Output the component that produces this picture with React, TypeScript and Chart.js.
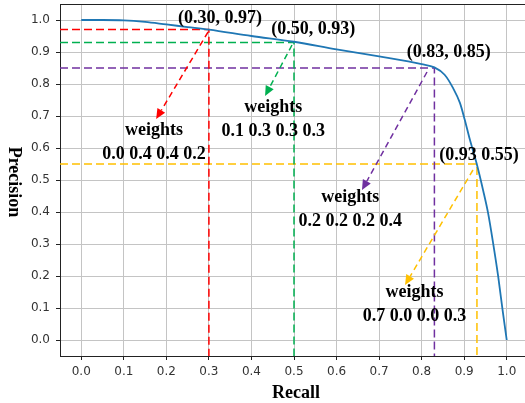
import React, { useEffect, useRef } from "react";
import { Chart, registerables } from "chart.js";

Chart.register(...registerables);

// ---- data ----
const recall = [0, 0.05, 0.1, 0.15, 0.2, 0.25, 0.3, 0.4, 0.5, 0.6, 0.7, 0.8, 0.83, 0.854, 0.874, 0.89, 0.901, 0.913, 0.929, 0.945, 0.956, 0.968, 0.98, 0.991, 1.0];
const precision = [1.0, 1.0, 0.999, 0.994, 0.986, 0.978, 0.97, 0.95, 0.932, 0.908, 0.886, 0.862, 0.852, 0.829, 0.787, 0.741, 0.69, 0.628, 0.553, 0.465, 0.398, 0.303, 0.198, 0.086, 0.0];

const tickValues = [0, 0.1, 0.2, 0.3, 0.4, 0.5, 0.6, 0.7, 0.8, 0.9, 1.0];
const tickLabels = ["0.0", "0.1", "0.2", "0.3", "0.4", "0.5", "0.6", "0.7", "0.8", "0.9", "1.0"];

const pointRecall = [0.3, 0.5, 0.83, 0.93];
const pointPrecision = [0.97, 0.93, 0.85, 0.55];
const pointLabels = ["(0.30, 0.97)", "(0.50, 0.93)", "(0.83, 0.85)", "(0.93 0.55)"];
const weightLabels = ["0.0 0.4 0.4 0.2", "0.1 0.3 0.3 0.3", "0.2 0.2 0.2 0.4", "0.7 0.0 0.0 0.3"];
const markerColors = ["#ff0000", "#00b050", "#7030a0", "#ffc000"];

// annotation placement (data coordinates)
const pointLabelPos = [[0.326, 0.991], [0.545, 0.956], [0.864, 0.884], [0.935, 0.5625]];
const weightLabelPos = [[0.171, 0.641], [0.451, 0.7125], [0.632, 0.431], [0.783, 0.134]];
const arrowFrom = [[0.298, 0.9625], [0.4953, 0.9219], [0.8126, 0.8375], [0.9207, 0.53125]];
const arrowTo = [[0.176, 0.6906], [0.432, 0.7625], [0.6598, 0.46875], [0.761, 0.171875]];

const AXIS_MIN = -0.05;
const AXIS_MAX = 1.05;

const annotationPlugin = {
  id: "annotations",
  afterDatasetsDraw(chart: any) {
    const ctx = chart.ctx;
    const xs = chart.scales.x;
    const ys = chart.scales.y;
    const area = chart.chartArea;
    ctx.save();
    // arrows
    for (let i = 0; i < arrowFrom.length; i++) {
      const x1 = xs.getPixelForValue(arrowFrom[i][0]);
      const y1 = ys.getPixelForValue(arrowFrom[i][1]);
      const x2 = xs.getPixelForValue(arrowTo[i][0]);
      const y2 = ys.getPixelForValue(arrowTo[i][1]);
      const ang = Math.atan2(y2 - y1, x2 - x1);
      const headLen = 10;
      const headW = 4.5;
      const bx = x2 - headLen * Math.cos(ang);
      const by = y2 - headLen * Math.sin(ang);
      ctx.strokeStyle = markerColors[i];
      ctx.fillStyle = markerColors[i];
      ctx.lineWidth = 1.5;
      ctx.setLineDash([6, 4]);
      ctx.beginPath();
      ctx.moveTo(x1, y1);
      ctx.lineTo(bx, by);
      ctx.stroke();
      ctx.setLineDash([]);
      ctx.beginPath();
      ctx.moveTo(x2, y2);
      ctx.lineTo(bx + headW * Math.sin(ang), by - headW * Math.cos(ang));
      ctx.lineTo(bx - headW * Math.sin(ang), by + headW * Math.cos(ang));
      ctx.closePath();
      ctx.fill();
    }
    // texts
    ctx.fillStyle = "#000";
    ctx.font = "bold 18px 'Liberation Serif', 'Times New Roman', serif";
    ctx.textAlign = "center";
    ctx.textBaseline = "alphabetic";
    for (let i = 0; i < pointLabels.length; i++) {
      ctx.fillText(pointLabels[i], xs.getPixelForValue(pointLabelPos[i][0]), ys.getPixelForValue(pointLabelPos[i][1]));
      const wx = xs.getPixelForValue(weightLabelPos[i][0]);
      const wy = ys.getPixelForValue(weightLabelPos[i][1]);
      ctx.fillText("weights", wx, wy);
      ctx.fillText(weightLabels[i], wx, wy + 24);
    }
    // top spine
    ctx.strokeStyle = "#222";
    ctx.lineWidth = 1;
    ctx.beginPath();
    ctx.moveTo(area.left, area.top + 0.5);
    ctx.lineTo(area.right, area.top + 0.5);
    ctx.stroke();
    // axis titles
    ctx.fillStyle = "#000";
    ctx.font = "bold 18px 'Liberation Serif', 'Times New Roman', serif";
    ctx.textAlign = "center";
    ctx.textBaseline = "alphabetic";
    ctx.fillText("Recall", (area.left + area.right) / 2 + 2, 398);
    ctx.save();
    ctx.translate(9, (area.top + area.bottom) / 2 + 2);
    ctx.rotate(Math.PI / 2);
    ctx.fillText("Precision", 0, 0);
    ctx.restore();
    ctx.restore();
  },
};

export default function App() {
  const ref = useRef<HTMLCanvasElement | null>(null);
  useEffect(() => {
    document.body.style.margin = "0";
    document.body.style.overflow = "hidden";
    const canvas = ref.current;
    if (!canvas) return;

    const curve = recall.map((r, i) => ({ x: r, y: precision[i] }));
    const guideSets = pointRecall.map((px, i) => ({
      type: "line" as const,
      data: [
        { x: AXIS_MIN, y: pointPrecision[i] },
        { x: px, y: pointPrecision[i] },
        { x: px, y: AXIS_MIN },
      ],
      borderColor: markerColors[i],
      borderWidth: 1.5,
      borderDash: [8, 4],
      pointRadius: 0,
      tension: 0,
      fill: false,
    }));

    const gridCommon = {
      color: "#c4c4c4",
      lineWidth: 1,
      tickColor: "#222",
      tickLength: 4,
      drawTicks: true,
    };

    const labelFor = (v: any) => {
      const idx = tickValues.findIndex((t) => Math.abs(t - v) < 1e-9);
      return idx >= 0 ? tickLabels[idx] : "";
    };

    const chart = new Chart(canvas, {
      type: "line",
      data: {
        datasets: [
          {
            data: curve,
            borderColor: "#1f77b4",
            borderWidth: 1.8,
            pointRadius: 0,
            cubicInterpolationMode: "monotone",
            fill: false,
          } as any,
          ...guideSets,
        ],
      },
      options: {
        animation: false,
        responsive: false,
        maintainAspectRatio: false,
        parsing: false as any,
        layout: { padding: { top: 4, right: 2, left: 0, bottom: 0 } },
        plugins: {
          legend: { display: false },
          tooltip: { enabled: false },
        },
        scales: {
          x: {
            type: "linear",
            min: AXIS_MIN,
            max: AXIS_MAX,
            grid: gridCommon,
            border: { display: true, color: "#222", width: 1 },
            ticks: {
              padding: 5,
              color: "#333",
              font: { family: "'DejaVu Sans'", size: 12 },
              maxRotation: 0,
              autoSkip: false,
              callback: labelFor,
            },
            afterBuildTicks: (scale: any) => {
              scale.ticks = tickValues.map((v) => ({ value: v }));
            },
            afterFit: (scale: any) => {
              scale.height = 47;
              scale.paddingLeft = 0;
              scale.paddingRight = 0;
            },
          },
          y: {
            type: "linear",
            min: AXIS_MIN,
            max: AXIS_MAX,
            grid: gridCommon,
            border: { display: true, color: "#222", width: 1 },
            ticks: {
              padding: 6,
              color: "#333",
              font: { family: "'DejaVu Sans'", size: 12 },
              autoSkip: false,
              callback: labelFor,
            },
            afterBuildTicks: (scale: any) => {
              scale.ticks = tickValues.map((v) => ({ value: v }));
            },
            afterFit: (scale: any) => {
              scale.width = 60;
              scale.paddingTop = 0;
              scale.paddingBottom = 0;
            },
          },
        },
      },
      plugins: [annotationPlugin],
    });
    return () => chart.destroy();
  }, []);

  return (
    <div style={{ position: "fixed", left: 0, top: 0, width: 530, height: 403, background: "#fff" }}>
      <canvas ref={ref} width={530} height={403} style={{ width: 530, height: 403, display: "block" }} />
    </div>
  );
}
